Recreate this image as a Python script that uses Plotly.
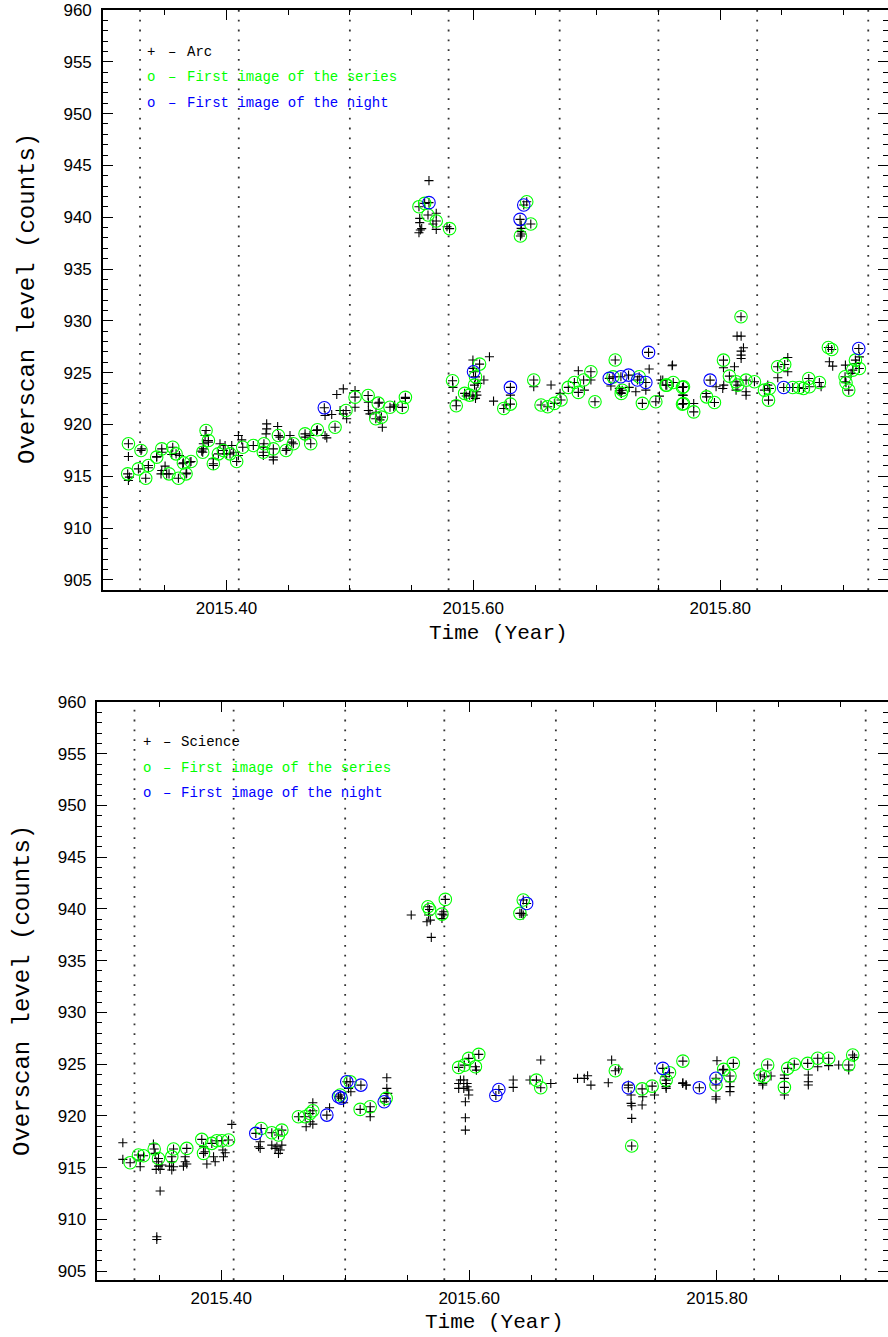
import plotly.graph_objects as go

# ---------------- data ----------------
month_lines = [2015.33, 2015.41, 2015.50, 2015.58, 2015.67, 2015.75, 2015.83, 2015.92]

# Top panel (Arc): crosses not inside a circle
arc_only_x = [2015.3206, 2015.3206, 2015.3214, 2015.3314, 2015.3368, 2015.3476, 2015.3470, 2015.3503, 2015.3516,
              2015.3435, 2015.3476, 2015.3557, 2015.3619, 2015.3646, 2015.3705, 2015.3678, 2015.3827, 2015.3813,
              2015.3813, 2015.3800, 2015.3854, 2015.3894, 2015.3894, 2015.3948, 2015.3989, 2015.4002, 2015.4043,
              2015.4056, 2015.4097, 2015.4124, 2015.4097, 2015.4326, 2015.4326, 2015.4321, 2015.4299, 2015.4299,
              2015.4380, 2015.4380, 2015.4415, 2015.4434, 2015.4515, 2015.4529, 2015.4488, 2015.4637, 2015.4677,
              2015.4731, 2015.4799, 2015.4799, 2015.4813, 2015.4853, 2015.4894, 2015.4947, 2015.4921, 2015.4947,
              2015.4974, 2015.5042, 2015.5042, 2015.5150, 2015.5150, 2015.5163, 2015.5239, 2015.5212, 2015.5263,
              2015.5244,
              2015.5641, 2015.5566, 2015.5566, 2015.5571, 2015.5560, 2015.5582, 2015.5673, 2015.5700, 2015.5700,
              2015.5787, 2015.6388, 2015.6388, 2015.6388, 2015.6393, 2015.5355, 2015.5363, 2015.5450, 2015.5835,
              2015.5862, 2015.5997, 2015.6131, 2015.6086, 2015.6037, 2015.6024, 2015.5997, 2015.6018, 2015.6029,
              2015.5943, 2015.5997, 2015.6164, 2015.6301, 2015.6266, 2015.6490, 2015.6630, 2015.6703, 2015.6851,
              2015.6953, 2015.6900, 2015.7115, 2015.7183, 2015.7183, 2015.7196, 2015.7263, 2015.7317, 2015.7398,
              2015.7425, 2015.7519, 2015.7614, 2015.7695,
              2015.7611, 2015.7535, 2015.7703, 2015.7508, 2015.7786, 2015.7886, 2015.7967, 2015.8027, 2015.8021,
              2015.8029, 2015.8137, 2015.8170, 2015.8189, 2015.8170, 2015.8170, 2015.8170, 2015.8116, 2015.8210,
              2015.8210, 2015.8129, 2015.8386, 2015.8467, 2015.8548, 2015.8548, 2015.8818, 2015.8885, 2015.8912,
              2015.9015, 2015.9015, 2015.9061, 2015.9128, 2015.9101]
arc_only_y = [916.91, 914.60, 914.92, 917.65, 915.82, 915.56, 915.24, 915.98, 915.24,
              916.91, 917.33, 917.11, 917.01, 916.21, 916.37, 915.31, 918.94, 918.14,
              917.65, 917.43, 918.30, 916.69, 916.05, 918.14, 917.97, 917.17, 917.97,
              917.33, 918.94, 918.52, 917.01, 920.06, 919.58, 919.10, 917.81, 917.01,
              916.85, 916.59, 919.81, 918.78, 918.94, 918.30, 917.65, 918.78, 918.94,
              919.42, 920.87, 918.94, 918.71, 920.96, 922.89, 923.44, 921.35, 921.03,
              920.55, 923.28, 921.67, 922.15, 921.35, 921.03, 922.15, 921.19, 919.74,
              920.45,
              943.53, 939.89, 939.48, 938.77, 938.51, 938.90, 939.35, 940.38, 938.83,
              939.09, 939.25, 938.93, 938.61, 938.38, 921.72, 921.88, 922.52, 923.58,
              922.29, 926.22, 926.54, 924.29, 923.97, 923.16, 922.68, 922.52, 922.84,
              922.75, 925.42, 922.26, 922.84, 921.88, 923.65, 923.81, 923.00, 925.19,
              924.29, 923.32, 923.71, 923.49, 923.26, 923.07, 923.58, 923.16, 923.32,
              925.35, 924.29, 925.74, 922.84,
              925.67, 924.28, 922.83, 922.74, 922.03, 922.99, 923.64, 925.47, 923.48,
              923.80, 928.53, 928.53, 927.40, 927.08, 926.70, 926.37, 925.57, 923.16,
              922.83, 923.32, 923.80, 924.51, 926.47, 925.09, 923.64, 926.05, 925.63,
              925.73, 924.12, 924.93, 926.53, 925.89]

# Top panel: first image of the series (green)
arc_series_x = [2015.3206, 2015.3200, 2015.3308, 2015.3287, 2015.3346, 2015.3368, 2015.3476, 2015.3435,
                2015.3565, 2015.3592, 2015.3535, 2015.3611, 2015.3673, 2015.3651, 2015.3713, 2015.3835,
                2015.3854, 2015.3808, 2015.3894, 2015.3935, 2015.3975, 2015.4029, 2015.4083, 2015.4132,
                2015.4218, 2015.4304, 2015.4299, 2015.4380, 2015.4421, 2015.4483, 2015.4542, 2015.4637,
                2015.4683, 2015.4737, 2015.4880, 2015.4969, 2015.5042, 2015.5148, 2015.5230, 2015.5210,
                2015.5256, 2015.5325, 2015.5425, 2015.5450,
                2015.5560, 2015.5606, 2015.5633, 2015.5700, 2015.5808, 2015.6433, 2015.6466, 2015.6382,
                2015.5832, 2015.5862, 2015.6051, 2015.6018, 2015.6010, 2015.5930, 2015.5970, 2015.6247,
                2015.6301, 2015.6490, 2015.6549, 2015.6603, 2015.6657, 2015.6711, 2015.6770, 2015.6819,
                2015.6851, 2015.6894, 2015.6953, 2015.6986, 2015.7150, 2015.7132, 2015.7207, 2015.7199,
                2015.7344, 2015.7370, 2015.7479, 2015.7560, 2015.7620, 2015.7695, 2015.7695,
                2015.7568, 2015.7703, 2015.7703, 2015.7786, 2015.7890, 2015.7954, 2015.8027, 2015.8075,
                2015.8129, 2015.8143, 2015.8210, 2015.8278, 2015.8169, 2015.8359, 2015.8392, 2015.8399,
                2015.8466, 2015.8523, 2015.8588, 2015.8642, 2015.8675, 2015.8723, 2015.8718, 2015.8804,
                2015.8877, 2015.8904, 2015.9012, 2015.9020, 2015.9042, 2015.9096, 2015.9128, 2015.9074]
arc_series_y = [918.14, 915.24, 917.49, 915.72, 914.82, 916.05, 917.65, 916.85,
                917.81, 917.17, 915.24, 914.82, 915.24, 916.30, 916.43, 919.42,
                918.46, 917.33, 916.21, 917.17, 917.49, 917.17, 916.43, 917.81,
                917.97, 918.14, 917.33, 917.65, 918.94, 917.49, 918.14, 919.10,
                918.14, 919.49, 919.74, 921.35, 922.64, 922.80, 922.06, 920.55,
                920.71, 921.67, 921.65, 922.62,
                941.02, 941.34, 940.22, 939.64, 938.90, 941.50, 939.35, 938.19,
                924.22, 921.81, 925.83, 924.60, 923.80, 923.00, 922.84, 921.55,
                921.97, 924.29, 921.88, 921.72, 922.04, 922.36, 923.58, 924.06,
                923.10, 924.29, 925.09, 922.20, 926.22, 924.60, 923.30, 923.00,
                924.61, 922.04, 922.20, 923.80, 924.06, 923.58, 921.97,
                923.80, 923.64, 922.03, 921.22, 922.67, 922.13, 926.21, 924.67,
                924.12, 923.80, 924.28, 924.12, 930.40, 923.32, 922.35, 923.48,
                925.57, 925.79, 923.57, 923.57, 923.48, 923.64, 924.44, 924.06,
                927.43, 927.24, 924.61, 924.03, 923.32, 926.21, 925.41, 925.25]

# Top panel: first image of the night (blue)
arc_night_x = [2015.4793, 2015.5641, 2015.6409, 2015.6379, 2015.6002, 2015.6301, 2015.7102, 2015.7196,
               2015.7258, 2015.7330, 2015.7398, 2015.7420, 2015.7919, 2015.8515, 2015.9123]
arc_night_y = [921.61, 941.41, 941.18, 939.80, 925.09, 923.58, 924.45, 924.61,
               924.77, 924.29, 924.06, 926.96, 924.28, 923.57, 927.34]

# Bottom panel (Science): crosses not inside a circle
sci_only_x = [2015.3206, 2015.3206, 2015.3346, 2015.3346, 2015.3467, 2015.3480, 2015.3494, 2015.3507, 2015.3475,
              2015.3521, 2015.3507, 2015.3480, 2015.3480, 2015.3453, 2015.3601, 2015.3615, 2015.3601, 2015.3582,
              2015.3709, 2015.3709, 2015.3695, 2015.3722, 2015.3884, 2015.3870, 2015.3857, 2015.3951, 2015.3938,
              2015.4018, 2015.4032, 2015.4013, 2015.4085, 2015.4314, 2015.4314, 2015.4301, 2015.4408, 2015.4449,
              2015.4476, 2015.4489, 2015.4462, 2015.4435, 2015.4685, 2015.4739, 2015.4739, 2015.4718, 2015.4874,
              2015.4987, 2015.5046, 2015.5027, 2015.5202, 2015.5202, 2015.5336, 2015.5336, 2015.5344,
              2015.5533, 2015.5660, 2015.5687, 2015.5673, 2015.5695, 2015.5795, 2015.5795, 2015.5781, 2015.6437,
              2015.6424, 2015.5916, 2015.5930, 2015.5957, 2015.5984, 2015.5997, 2015.5970, 2015.5970, 2015.5970,
              2015.5916, 2015.5957, 2015.5997, 2015.5984, 2015.6059, 2015.6356, 2015.6356, 2015.6578, 2015.6491,
              2015.6659, 2015.6875, 2015.6929, 2015.6956, 2015.6983, 2015.7123, 2015.7150, 2015.7207, 2015.7285,
              2015.7307, 2015.7307, 2015.7312, 2015.7312, 2015.7401, 2015.7396, 2015.7496, 2015.7582, 2015.7590,
              2015.7590, 2015.7725, 2015.7752,
              2015.7589, 2015.7723, 2015.7750, 2015.7992, 2015.7992, 2015.8000, 2015.8046, 2015.8105, 2015.8105,
              2015.8105, 2015.8369, 2015.8436, 2015.8369, 2015.8544, 2015.8544, 2015.8544, 2015.8737, 2015.8737,
              2015.8737, 2015.8813, 2015.8901, 2015.8982, 2015.9063, 2015.9109]
sci_only_y = [917.40, 915.79, 915.08, 915.72, 916.37, 915.56, 915.14, 914.82, 914.82,
              915.24, 912.73, 908.31, 908.05, 917.27, 915.56, 915.08, 914.76, 915.14,
              916.05, 915.56, 915.14, 915.34, 915.34, 916.53, 917.01, 915.56, 916.05,
              916.05, 916.43, 916.69, 919.17, 917.50, 916.85, 917.01, 917.17, 917.01,
              916.69, 917.17, 916.37, 916.85, 918.95, 919.20, 921.27, 919.43, 920.78,
              921.27, 922.33, 922.65, 919.91, 920.40, 923.68, 922.65, 922.17,
              939.41, 938.76, 938.92, 939.41, 937.25, 939.73, 939.41, 939.08, 939.41,
              939.57, 923.13, 923.46, 923.46, 923.13, 922.49, 921.36, 919.82, 918.62,
              922.65, 922.65, 922.01, 922.81, 924.42, 923.46, 922.75, 925.39, 923.46,
              923.13, 923.62, 923.62, 923.88, 922.97, 923.20, 925.39, 924.52, 922.97,
              922.01, 921.20, 920.98, 919.75, 921.85, 921.04, 922.01, 923.78, 923.13,
              922.65, 923.20, 922.97,
              922.82, 923.14, 922.98, 921.85, 921.63, 925.33, 924.43, 923.30, 922.82,
              922.34, 923.14, 923.85, 922.98, 923.95, 923.62, 922.01, 923.95, 923.30,
              922.98, 924.75, 924.85, 924.91, 924.43, 925.65]

# Bottom panel: first image of the series (green)
sci_series_x = [2015.3265, 2015.3332, 2015.3373, 2015.3459, 2015.3494, 2015.3601, 2015.3615, 2015.3722,
                2015.3843, 2015.3857, 2015.3924, 2015.3964, 2015.4005, 2015.4059, 2015.4322, 2015.4408,
                2015.4489, 2015.4462, 2015.4623, 2015.4677, 2015.4717, 2015.4739, 2015.4960, 2015.5040,
                2015.5121, 2015.5202, 2015.5331,
                2015.5668, 2015.5681, 2015.5808, 2015.5781, 2015.6437, 2015.6410, 2015.5916, 2015.5962,
                2015.5997, 2015.6051, 2015.6078, 2015.6543, 2015.6578, 2015.7180, 2015.7312, 2015.7396,
                2015.7477, 2015.7617, 2015.7590, 2015.7725,
                2015.7992, 2015.8054, 2015.8105, 2015.8132, 2015.8350, 2015.8382, 2015.8409, 2015.8544,
                2015.8571, 2015.8624, 2015.8732, 2015.8813, 2015.8901, 2015.9063, 2015.9095]
sci_series_y = [915.47, 916.21, 916.14, 916.79, 915.88, 916.05, 916.79, 916.85,
                917.72, 916.37, 917.34, 917.59, 917.59, 917.66, 918.78, 918.37,
                918.62, 918.14, 919.91, 919.91, 920.23, 920.49, 922.01, 923.30,
                920.62, 920.88, 921.69,
                940.21, 939.95, 940.92, 939.50, 940.86, 939.57, 924.68, 924.90,
                925.55, 924.75, 925.94, 923.45, 922.72, 924.36, 917.08, 922.60,
                922.87, 924.17, 923.45, 925.29,
                922.98, 924.49, 923.85, 925.07, 923.95, 923.78, 924.91, 922.75,
                924.59, 924.98, 925.07, 925.56, 925.56, 924.91, 925.88]

# Bottom panel: first image of the night (blue)
sci_night_x = [2015.4279, 2015.4852, 2015.4946, 2015.4968, 2015.5013, 2015.5127, 2015.5315, 2015.6464,
               2015.6240, 2015.6216, 2015.7285, 2015.7563, 2015.7858, 2015.7992]
sci_night_y = [918.30, 920.07, 921.85, 921.71, 923.30, 922.97, 921.36, 940.53,
               922.55, 921.97, 922.72, 924.59, 922.72, 923.63]

panels = [
    dict(label="Arc", only=(arc_only_x, arc_only_y), series=(arc_series_x, arc_series_y),
         night=(arc_night_x, arc_night_y)),
    dict(label="Science", only=(sci_only_x, sci_only_y), series=(sci_series_x, sci_series_y),
         night=(sci_night_x, sci_night_y)),
]

# ---------------- figure ----------------
W, H = 888, 1337
fig = go.Figure()

GREEN = "#00ff00"
BLUE = "#0000ff"

axes_names = [("x", "y"), ("x2", "y2")]
for (xa, ya), p in zip(axes_names, panels):
    cx = list(p["only"][0]) + list(p["series"][0]) + list(p["night"][0])
    cy = list(p["only"][1]) + list(p["series"][1]) + list(p["night"][1])
    fig.add_trace(go.Scatter(x=cx, y=cy, mode="markers", xaxis=xa, yaxis=ya, showlegend=False,
                             marker=dict(symbol="cross-thin", size=6.5, line=dict(color="black", width=1.1))))
    fig.add_trace(go.Scatter(x=p["series"][0], y=p["series"][1], mode="markers", xaxis=xa, yaxis=ya,
                             showlegend=False,
                             marker=dict(symbol="circle-open", size=12.5, color=GREEN,
                                         line=dict(color=GREEN, width=1.1))))
    fig.add_trace(go.Scatter(x=p["night"][0], y=p["night"][1], mode="markers", xaxis=xa, yaxis=ya,
                             showlegend=False,
                             marker=dict(symbol="circle-open", size=12.5, color=BLUE,
                                         line=dict(color=BLUE, width=1.1))))
    for m in month_lines:
        fig.add_shape(type="line", xref=xa, yref=ya + " domain", x0=m, x1=m, y0=0, y1=1,
                      line=dict(color="#333333", width=1.8, dash="1.8px,8px"), layer="below")

tickfont = dict(family="Liberation Sans, Arial, sans-serif", size=17, color="black")


def xaxis_cfg(domain, rng):
    return dict(domain=domain, range=rng, tickmode="linear", tick0=2015.0, dtick=0.2, tickformat=".2f",
                ticks="inside", ticklen=10, tickwidth=1.2, tickcolor="black",
                minor=dict(tickmode="linear", tick0=2015.0, dtick=0.05, ticks="inside", ticklen=5,
                           tickwidth=1.2, tickcolor="black"),
                showline=True, linecolor="black", linewidth=1.6, mirror="allticks", automargin=False,
                showgrid=False, zeroline=False, tickfont=tickfont, ticklabelstandoff=2)


def yaxis_cfg(domain, rng, anchor):
    return dict(domain=domain, range=rng, anchor=anchor, tickmode="linear", tick0=905, dtick=5,
                ticks="inside", ticklen=10, tickwidth=1.2, tickcolor="black",
                minor=dict(tickmode="linear", tick0=905, dtick=1, ticks="inside", ticklen=5,
                           tickwidth=1.2, tickcolor="black"),
                showline=True, linecolor="black", linewidth=1.6, mirror="allticks", automargin=False,
                showgrid=False, zeroline=False, tickfont=tickfont, ticklabelstandoff=6)


fig.update_layout(
    width=W, height=H, margin=dict(l=0, r=0, t=0, b=0, pad=0, autoexpand=False),
    paper_bgcolor="white", plot_bgcolor="white",
    xaxis=dict(xaxis_cfg([103 / W, 1.0], [2015.30, 2015.936]), anchor="y"),
    yaxis=yaxis_cfg([1 - 590 / H, 1 - 10 / H], [904.03, 960], "x"),
    xaxis2=dict(xaxis_cfg([97.3 / W, 1.0], [2015.30, 2015.938]), anchor="y2"),
    yaxis2=yaxis_cfg([1 - 1280 / H, 1 - 702 / H], [904.13, 960], "x2"),
)

annots = []
title_font = dict(family="Liberation Mono, DejaVu Sans Mono, monospace", size=21, color="black")
ytitle_font = dict(family="Liberation Mono, DejaVu Sans Mono, monospace", size=24, color="black")
# axis titles
for cx_, cy_ in [(498, 633), (494, 1322)]:
    annots.append(dict(text="Time (Year)", x=cx_ / W, y=1 - cy_ / H, xref="paper", yref="paper",
                       showarrow=False, xanchor="center", yanchor="middle", font=title_font))
for cx_, cy_ in [(27, 299), (22, 991)]:
    annots.append(dict(text="Overscan level (counts)", x=cx_ / W, y=1 - cy_ / H, xref="paper", yref="paper",
                       showarrow=False, xanchor="center", yanchor="middle", textangle=-90, font=ytitle_font))

# in-plot legends
leg_font = "Liberation Mono, DejaVu Sans Mono, monospace"
legend_rows = [
    (151, 172, 187, [52, 77, 103], panels[0]["label"]),
    (147, 167, 181, [742, 768, 793], panels[1]["label"]),
]
for sx, dx, tx, ys, lab in legend_rows:
    rows = [("+", "black", lab), ("o", GREEN, "First image of the series"), ("o", BLUE, "First image of the night")]
    for (sym, col, txt), yy in zip(rows, ys):
        annots.append(dict(text=sym, x=sx / W, y=1 - yy / H, xref="paper", yref="paper", showarrow=False,
                           xanchor="center", yanchor="middle", font=dict(family=leg_font, size=14, color=col)))
        annots.append(dict(text="–", x=dx / W, y=1 - yy / H, xref="paper", yref="paper", showarrow=False,
                           xanchor="center", yanchor="middle", font=dict(family=leg_font, size=14, color=col)))
        annots.append(dict(text=txt, x=tx / W, y=1 - yy / H, xref="paper", yref="paper", showarrow=False,
                           xanchor="left", yanchor="middle", xshift=-2,
                           font=dict(family=leg_font, size=14, color=col)))

fig.update_layout(annotations=annots)
fig.write_html("out.html")
